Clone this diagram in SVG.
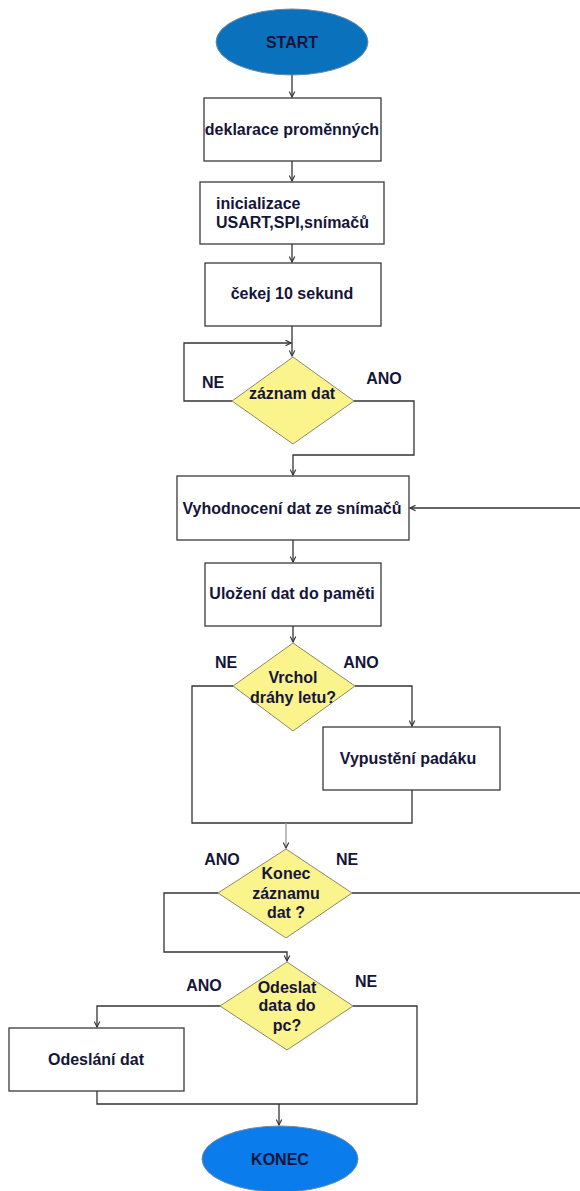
<svg xmlns="http://www.w3.org/2000/svg" width="580" height="1191" viewBox="0 0 580 1191">
<style>
.t{font-family:"Liberation Sans",Arial,sans-serif;font-weight:bold;font-size:16px;fill:#15153a;text-anchor:middle}
.l{text-anchor:start}
.box{fill:#fff;stroke:#3a3a3a;stroke-width:1.3}
.dia{fill:#FBF38C;stroke:#8a8a6a;stroke-width:1}
.c{fill:none;stroke:#333;stroke-width:1.3}
.g{stroke:#999}
</style>
<defs>
<marker id="a" viewBox="0 0 10 10" refX="9" refY="5" markerWidth="7" markerHeight="7" orient="auto" markerUnits="userSpaceOnUse">
<path d="M1 1 L9 5 L1 9" fill="none" stroke="#333" stroke-width="1.6"/>
</marker>
</defs>
<rect width="580" height="1191" fill="#fff"/>
<g id="connectors">
<path class="c" d="M292 75 V97" marker-end="url(#a)"/>
<path class="c" d="M292 161 V181" marker-end="url(#a)"/>
<path class="c" d="M292 244 V262" marker-end="url(#a)"/>
<path class="c" d="M292 326 V356" marker-end="url(#a)"/>
<path class="c" d="M232 401 H184 V343 H291" marker-end="url(#a)"/>
<path class="c" d="M354 401 H414 V455 H293 V475" marker-end="url(#a)"/>
<path class="c" d="M352 893 H590 V508 H410" marker-end="url(#a)"/>
<path class="c" d="M293 540 V562" marker-end="url(#a)"/>
<path class="c" d="M293 626 V642" marker-end="url(#a)"/>
<path class="c" d="M355 686 H412 V726" marker-end="url(#a)"/>
<path class="c" d="M233 686 H192 V823 H412 V790"/>
<path class="c g" d="M286 823 V848" marker-end="url(#a)"/>
<path class="c" d="M218 893 H164 V952 H287 V961" marker-end="url(#a)"/>
<path class="c" d="M220 1006 H97 V1027" marker-end="url(#a)"/>
<path class="c" d="M97 1091 V1104 H417 V1006 H353"/>
<path class="c" d="M279 1104 V1125" marker-end="url(#a)"/>
</g>
<g id="start">
<ellipse cx="292" cy="42" rx="76" ry="33" fill="#0A72BC" stroke="#6a8aa8" stroke-width="1"/>
<text class="t" x="292" y="48">START</text>
</g>
<g id="deklarace">
<rect class="box" x="204" y="98" width="177" height="63"/>
<text class="t" x="292" y="135">deklarace proměnných</text>
</g>
<g id="inicializace">
<rect class="box" x="200" y="182" width="184" height="62"/>
<text class="t l" x="216" y="209">inicializace</text>
<text class="t l" x="216" y="228">USART,SPI,snímačů</text>
</g>
<g id="cekej">
<rect class="box" x="205" y="263" width="176" height="63"/>
<text class="t" x="292" y="299">čekej 10 sekund</text>
</g>
<g id="zaznam">
<polygon class="dia" points="293,357 354,401 293,444 232,401"/>
<text class="t" x="292" y="399">záznam dat</text>
<text class="t" x="213" y="388">NE</text>
<text class="t" x="384" y="384">ANO</text>
</g>
<g id="vyhodnoceni">
<rect class="box" x="177" y="476" width="232" height="64"/>
<text class="t" x="292" y="514">Vyhodnocení dat ze snímačů</text>
</g>
<g id="ulozeni">
<rect class="box" x="205" y="563" width="176" height="63"/>
<text class="t" x="292" y="599">Uložení dat do paměti</text>
</g>
<g id="vrchol">
<polygon class="dia" points="293,643 355,686 293,731 233,686"/>
<text class="t" x="293" y="683">Vrchol</text>
<text class="t" x="293" y="703">dráhy letu?</text>
<text class="t" x="226" y="668">NE</text>
<text class="t" x="361" y="668">ANO</text>
</g>
<g id="vypusteni">
<rect class="box" x="323" y="727" width="177" height="63"/>
<text class="t" x="408" y="764">Vypustění padáku</text>
</g>
<g id="konec-zaznamu">
<polygon class="dia" points="286,849 352,893 286,938 218,893"/>
<text class="t" x="286" y="879">Konec</text>
<text class="t" x="286" y="899">záznamu</text>
<text class="t" x="286" y="918">dat ?</text>
<text class="t" x="222" y="865">ANO</text>
<text class="t" x="347" y="865">NE</text>
</g>
<g id="odeslat">
<polygon class="dia" points="287,962 353,1006 287,1050 220,1006"/>
<text class="t" x="287" y="993">Odeslat</text>
<text class="t" x="287" y="1011">data do</text>
<text class="t" x="287" y="1031">pc?</text>
<text class="t" x="204" y="991">ANO</text>
<text class="t" x="366" y="987">NE</text>
</g>
<g id="odeslani">
<rect class="box" x="9" y="1028" width="175" height="63"/>
<text class="t" x="96" y="1065">Odeslání dat</text>
</g>
<g id="konec">
<ellipse cx="280" cy="1159" rx="78" ry="33" fill="#0A7CEB" stroke="#6a8aa8" stroke-width="1"/>
<text class="t" x="280" y="1165">KONEC</text>
</g>
</svg>
